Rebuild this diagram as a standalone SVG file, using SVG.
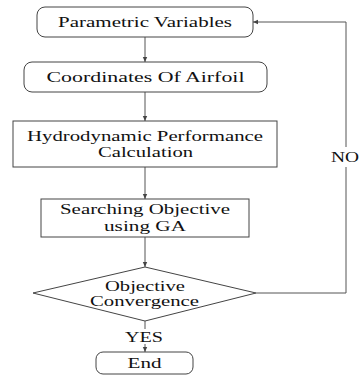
<svg xmlns="http://www.w3.org/2000/svg" width="360" height="376" viewBox="0 0 360 376">
<style>
.box{fill:#fff;stroke:#444;stroke-width:1}
.t{font-family:"Liberation Serif","Times New Roman",serif;font-size:15px;fill:#111;text-anchor:middle}
.ln{fill:none;stroke:#555;stroke-width:1}
</style>
<defs>
<marker id="ah" markerWidth="6" markerHeight="6" refX="5" refY="3" orient="auto" markerUnits="userSpaceOnUse">
<path d="M0,0.8 L5,3 L0,5.2 Z" fill="#444"/>
</marker>
</defs>
<rect width="360" height="376" fill="#fff"/>
<g id="connectors">
<line class="ln" x1="145" y1="37" x2="145" y2="62" marker-end="url(#ah)"/>
<line class="ln" x1="145" y1="92" x2="145" y2="121" marker-end="url(#ah)"/>
<line class="ln" x1="145" y1="167" x2="145" y2="199" marker-end="url(#ah)"/>
<line class="ln" x1="145" y1="237" x2="145" y2="267" marker-end="url(#ah)"/>
<line class="ln" x1="145" y1="321" x2="145" y2="352" marker-end="url(#ah)"/>
<path class="ln" d="M256,293 H346 V22 H253" marker-end="url(#ah)"/>
</g>
<g id="n1"><rect class="box" x="37" y="7" width="216" height="30" rx="8"/><text class="t" x="145" y="27" textLength="174" lengthAdjust="spacingAndGlyphs">Parametric Variables</text></g>
<g id="n2"><rect class="box" x="24" y="62" width="243" height="30" rx="8"/><text class="t" x="145.5" y="82" textLength="198" lengthAdjust="spacingAndGlyphs">Coordinates Of Airfoil</text></g>
<g id="n3"><rect class="box" x="13" y="121" width="264" height="46"/><text class="t" x="145" y="141" textLength="236" lengthAdjust="spacingAndGlyphs">Hydrodynamic Performance</text><text class="t" x="145.5" y="157" textLength="95" lengthAdjust="spacingAndGlyphs">Calculation</text></g>
<g id="n4"><rect class="box" x="41" y="199" width="208" height="38"/><text class="t" x="145" y="214" textLength="170" lengthAdjust="spacingAndGlyphs">Searching Objective</text><text class="t" x="145" y="231" textLength="82" lengthAdjust="spacingAndGlyphs">using GA</text></g>
<g id="n5"><polygon class="box" points="145,267 256,293 145,321 33,293"/><text class="t" x="145" y="291" textLength="80" lengthAdjust="spacingAndGlyphs">Objective</text><text class="t" x="144.5" y="306" textLength="109" lengthAdjust="spacingAndGlyphs">Convergence</text></g>
<g id="n6"><rect class="box" x="96" y="352" width="97" height="22" rx="7"/><text class="t" x="144.5" y="368" textLength="34" lengthAdjust="spacingAndGlyphs">End</text></g>
<g id="labels">
<rect x="124" y="329" width="40" height="15" fill="#fff"/><text class="t" x="144" y="342" textLength="38" lengthAdjust="spacingAndGlyphs">YES</text>
<rect x="331" y="147" width="29" height="20" fill="#fff"/><text class="t" x="345" y="162" textLength="28" lengthAdjust="spacingAndGlyphs">NO</text>
</g>
</svg>
